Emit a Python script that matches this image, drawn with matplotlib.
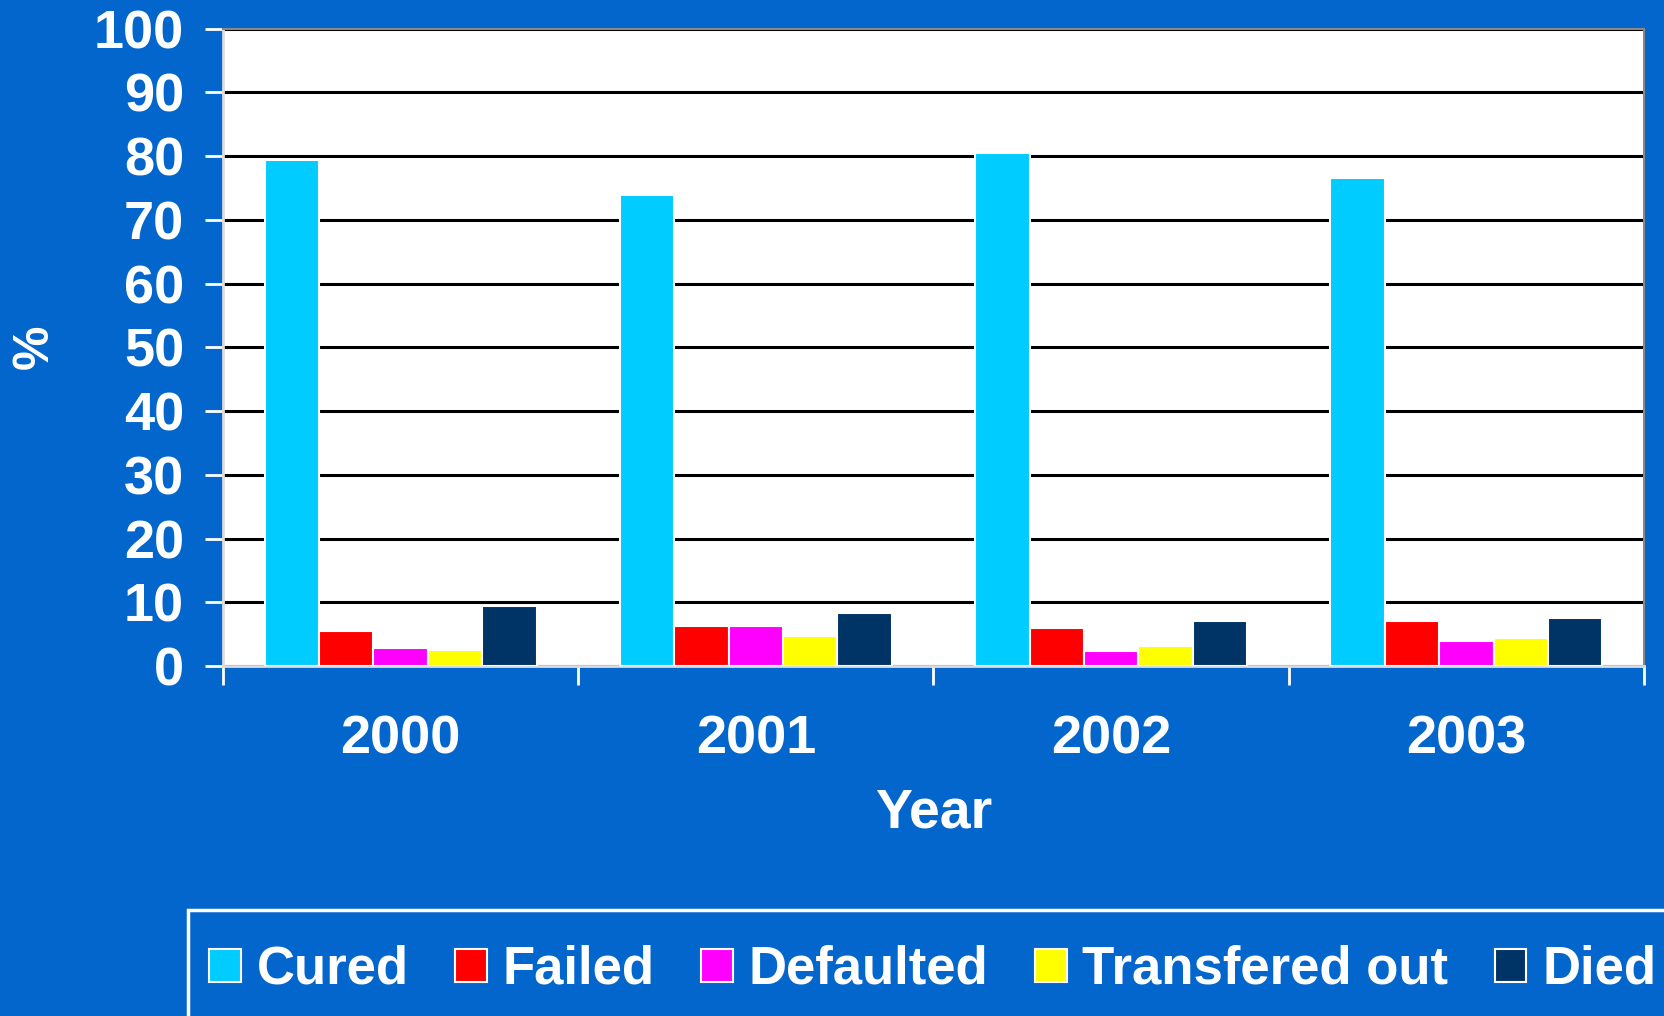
import matplotlib.pyplot as plt
from matplotlib.patches import Rectangle
import numpy as np

years = ['2000', '2001', '2002', '2003']
series = ['Cured', 'Failed', 'Defaulted', 'Transfered out', 'Died']
cured = [79.4, 73.9, 80.5, 76.6]
failed = [5.5, 6.3, 5.9, 7.1]
defaulted = [2.8, 6.3, 2.4, 4.0]
transfered = [2.5, 4.7, 3.1, 4.4]
died = [9.4, 8.3, 7.1, 7.5]
colors = ['#00CCFF', '#FF0000', '#FF00FF', '#FFFF00', '#003366']

bg = '#0366CC'
plt.rcParams['font.family'] = ['Liberation Sans', 'DejaVu Sans']
plt.rcParams['font.weight'] = 'bold'

fig = plt.figure(figsize=(16.65, 10.16), dpi=100, facecolor=bg)
ax = fig.add_axes([223/1665, 1 - 666/1016, (1644 - 223)/1665, (666 - 28.7)/1016])
ax.set_facecolor('white')

x = np.arange(len(years))
w = 0.153
for i, (vals, name) in enumerate(zip([cured, failed, defaulted, transfered, died], series)):
    ax.bar(x + (i - 2) * w, vals, w, color=colors[i], label=name,
           edgecolor='white', linewidth=1.5, zorder=3)

ax.set_ylim(0, 100)
ax.set_xlim(-0.5, 3.5)
ax.set_yticks(range(0, 101, 10))
ax.yaxis.grid(True, color='black', linewidth=2.2, zorder=1)
ax.set_axisbelow(True)

# category boundary ticks, labels centered
ax.set_xticks([-0.5, 0.5, 1.5, 2.5, 3.5])
ax.set_xticklabels([])
ax.set_xticks(x, minor=True)
ax.set_xticklabels(years, minor=True)
ax.tick_params(axis='x', which='major', length=14, width=2, color='white', direction='out')
ax.tick_params(axis='x', which='minor', length=0, pad=35, labelsize=39, labelcolor='white')
ax.tick_params(axis='y', length=13, width=2, color='white', pad=15, labelsize=39, labelcolor='white')

for s in ['left', 'bottom']:
    ax.spines[s].set_color('#DDDDDD')
    ax.spines[s].set_linewidth(2)
for s in ['top', 'right']:
    ax.spines[s].set_color('#888888')
    ax.spines[s].set_linewidth(1.5)

fig.text(0.5 + 0.5 * (223 + 1644 - 1665) / 1665, 1 - 814/1016, 'Year', color='white',
         fontsize=40, fontweight='bold', ha='center', va='center')
fig.text(35/1665, 1 - 347/1016, '%', color='white', fontsize=36, fontweight='bold',
         rotation=90, ha='center', va='center')

# legend box
fig.patches.append(Rectangle((188/1665, -0.05), 1.0, 0.05 + 1 - 910/1016,
                             transform=fig.transFigure, facecolor='none',
                             edgecolor='white', linewidth=2.5))
fig.legend(loc='center left', bbox_to_anchor=(209/1665, 1 - 970/1016), ncol=5,
           frameon=False, fontsize=38, labelcolor='white', handlelength=0.6,
           handleheight=0.6, handletextpad=0.3, columnspacing=0.88, borderpad=0,
           borderaxespad=0)

fig.savefig('out.png', dpi=100, facecolor=bg)
